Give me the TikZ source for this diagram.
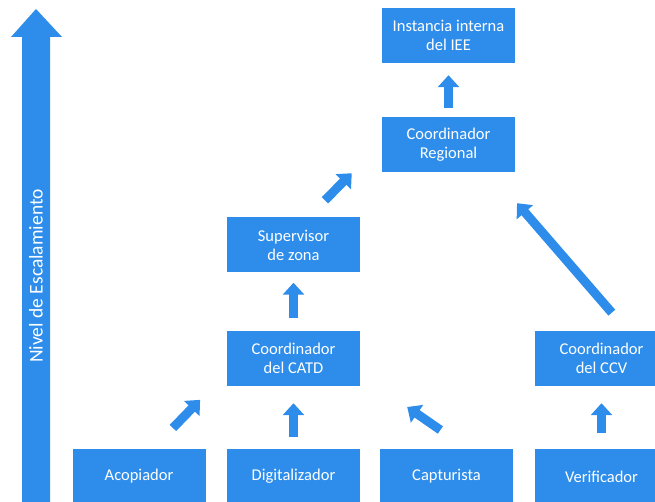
\documentclass[tikz,border=0pt]{standalone}
\usepackage{fontspec}
\setmainfont{Carlito}
\usetikzlibrary{arrows.meta}
\definecolor{escblue}{RGB}{46,141,234}
\tikzset{
  level/.style={fill=escblue, text=white, minimum width=133pt, minimum height=55pt, inner sep=0pt, align=center, font=\fontsize{16.5}{19}\selectfont},
  up/.style={draw=escblue, line width=9pt, -{Triangle[width=21pt,length=12pt]}}
}
\begin{document}
\begin{tikzpicture}[x=1pt,y=-1pt]
\useasboundingbox (0,0) rectangle (655,502);
\clip (0,0) rectangle (655,502);
% draw escalation axis
\fill[escblue] (22,502) -- (22,37) -- (11,37) -- (36,9) -- (62,37) -- (50,37) -- (50,502) -- cycle;
\node[text=white, rotate=90, font=\fontsize{19.5}{21}\selectfont] (nivel) at (36,276) {Nivel de Escalamiento};
% draw levels
\node[level] (inst) at (448.5,35.5) {Instancia interna\\del IEE};
\node[level] (reg) at (448.5,144.5) {Coordinador\\Regional};
\node[level] (sup) at (293.5,245) {Supervisor\\de zona};
\node[level] (catd) at (293.5,358.5) {Coordinador\\del CATD};
\node[level] (ccv) at (601.5,358.5) {Coordinador\\del CCV};
\node[level] (acop) at (139,476.5) {Acopiador};
\node[level] (digi) at (293.5,476.5) {Digitalizador};
\node[level] (capt) at (446.5,476.5) {Capturista};
\node[level] (veri) at (601.5,476.5) {Verificador};
% draw escalation arrows
\draw[up, shorten <=9pt, shorten >=12pt] (reg.north) -- (inst.south);
\draw[up, shorten <=24pt, shorten >=1.5pt] ([xshift=14.5pt]sup.north) -- ([xshift=-29pt]reg.south west);
\draw[up, shorten <=13pt, shorten >=10pt] (catd.north) -- (sup.south);
\draw[up, shorten <=24pt, shorten >=41pt] ([xshift=26pt]ccv.north) -- ([xshift=-25pt]reg.south east);
\draw[up, shorten <=29pt, shorten >=19pt] ([xshift=13.75pt]acop.north) -- ([xshift=-13.5pt]catd.south west);
\draw[up, shorten <=12pt, shorten >=17pt] (digi.north) -- (catd.south);
\draw[up, shorten <=33pt, shorten >=36.5pt] ([xshift=21pt]capt.north) -- ([xshift=17pt]catd.south east);
\draw[up, shorten <=16pt, shorten >=17pt] (veri.north) -- (ccv.south);
\end{tikzpicture}
\end{document}
